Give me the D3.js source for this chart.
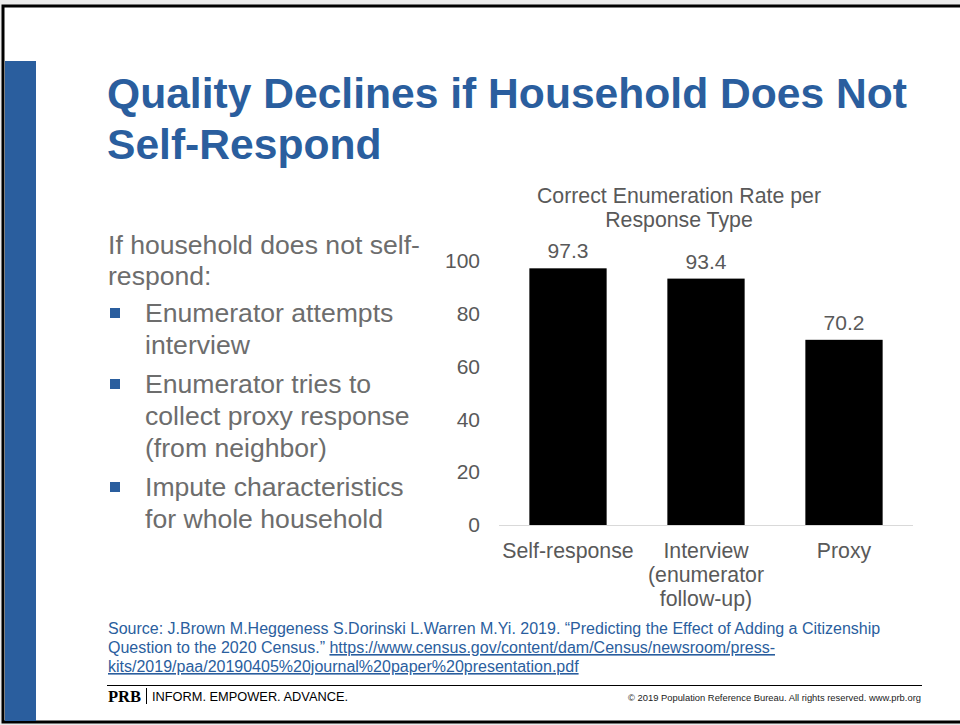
<!DOCTYPE html>
<html><head><meta charset="utf-8">
<script src="https://cdn.jsdelivr.net/npm/d3@7"></script>
<style>
html,body{margin:0;padding:0;background:#fff;}
svg{display:block;font-family:"Liberation Sans",Arial,sans-serif;}
</style></head>
<body>
<script>
const categories = [["Self-response"], ["Interview", "(enumerator", "follow-up)"], ["Proxy"]];
const values = [97.3, 93.4, 70.2];
const valueLabels = ["97.3", "93.4", "70.2"];
const yTicks = [0, 20, 40, 60, 80, 100];
const titleLines = ["Quality Declines if Household Does Not", "Self-Respond"];
const chartTitle = ["Correct Enumeration Rate per", "Response Type"];
const introLines = ["If household does not self-", "respond:"];
const bullets = [["Enumerator attempts", "interview"], ["Enumerator tries to", "collect proxy response", "(from neighbor)"], ["Impute characteristics", "for whole household"]];
const sourceLines = [
  [{t:"Source: J.Brown M.Heggeness S.Dorinski L.Warren M.Yi. 2019. \u201cPredicting the Effect of Adding a Citizenship", u:false}],
  [{t:"Question to the 2020 Census.\u201d ", u:false}, {t:"https://www.census.gov/content/dam/Census/newsroom/press-", u:true}],
  [{t:"kits/2019/paa/20190405%20journal%20paper%20presentation.pdf", u:true}]
];

const W = 960, H = 725;
const blue = "#2a5e9e", gray = "#595959", textGray = "#6d6d6d";
const svg = d3.select("body").append("svg").attr("width", W).attr("height", H);

// slide frame
svg.append("rect").attr("x",0).attr("y",0).attr("width",W).attr("height",H).attr("fill","#ebebeb");
svg.append("rect").attr("x",3).attr("y",6).attr("width",W).attr("height",H-9).attr("fill","#fff").attr("stroke","#000").attr("stroke-width",3);
svg.append("rect").attr("x",5).attr("y",61).attr("width",31).attr("height",H-61-4).attr("fill",blue);

// title
svg.append("g").selectAll("text").data(titleLines).join("text")
  .attr("x",107).attr("y",(d,i)=>108+i*51)
  .attr("font-size",42.6).attr("font-weight","bold").attr("fill",blue).text(d=>d);

// left text
const lt = svg.append("g").attr("fill",textGray).attr("font-size",26.6);
lt.selectAll("text.intro").data(introLines).join("text").attr("class","intro")
  .attr("x",108).attr("y",(d,i)=>254+i*31).text(d=>d);
let yy = 322;
bullets.forEach(b=>{
  lt.append("rect").attr("x",110).attr("y",yy-14).attr("width",10).attr("height",10).attr("fill",blue);
  b.forEach((line,j)=>{
    lt.append("text").attr("x",145).attr("y",yy+j*32).text(line);
  });
  yy += b.length*32 + 7;
});

// chart
const x = d3.scaleBand().domain(d3.range(values.length)).range([499,913]).paddingInner(0.44).paddingOuter(0.22);
const y = d3.scaleLinear().domain([0,100]).range([525,261.2]);

svg.append("g").attr("fill",gray).attr("font-size",21.3).attr("text-anchor","middle")
  .selectAll("text").data(chartTitle).join("text")
  .attr("x",679).attr("y",(d,i)=>203+i*24).text(d=>d);

const yAxis = svg.append("g").attr("transform","translate(499,0)")
  .call(d3.axisLeft(y).tickValues(yTicks).tickSize(0).tickPadding(19));
yAxis.select(".domain").remove();
yAxis.selectAll("text").attr("font-size",21).attr("fill",gray).attr("font-family","Liberation Sans, Arial, sans-serif");

svg.append("line").attr("x1",499).attr("x2",913).attr("y1",y(0)+0.5).attr("y2",y(0)+0.5).attr("stroke","#d9d9d9").attr("stroke-width",1);

svg.append("g").selectAll("rect").data(values).join("rect")
  .attr("x",(d,i)=>x(i)).attr("width",x.bandwidth())
  .attr("y",d=>y(d)).attr("height",d=>y(0)-y(d)).attr("fill","#000");

svg.append("g").attr("font-size",21).attr("fill",gray).attr("text-anchor","middle")
  .selectAll("text").data(values).join("text")
  .attr("x",(d,i)=>x(i)+x.bandwidth()/2).attr("y",d=>y(d)-10).text((d,i)=>valueLabels[i]);

const cg = svg.append("g").attr("font-size",21.3).attr("fill",gray).attr("text-anchor","middle");
categories.forEach((lines,i)=>{
  lines.forEach((l,j)=>{
    cg.append("text").attr("x",x(i)+x.bandwidth()/2).attr("y",558+j*24).text(l);
  });
});

// source
const sg = svg.append("g").attr("font-size",16).attr("fill",blue);
sourceLines.forEach((parts,i)=>{
  const t = sg.append("text").attr("x",108).attr("y",634+i*19).attr("xml:space","preserve");
  parts.forEach(p=>{
    t.append("tspan").attr("text-decoration",p.u?"underline":null).text(p.t);
  });
});

// footer
svg.append("line").attr("x1",107).attr("x2",922).attr("y1",685.5).attr("y2",685.5).attr("stroke","#000").attr("stroke-width",1);
svg.append("text").attr("x",108).attr("y",702).attr("font-family","Liberation Serif, Times New Roman, serif").attr("font-weight","bold").attr("font-size",16.5).attr("fill","#000").text("PRB");
svg.append("line").attr("x1",146.5).attr("x2",146.5).attr("y1",688).attr("y2",704).attr("stroke","#000").attr("stroke-width",1);
svg.append("text").attr("x",152).attr("y",701).attr("font-size",12.8).attr("fill","#000").text("INFORM. EMPOWER. ADVANCE.");
svg.append("text").attr("x",921).attr("y",701).attr("text-anchor","end").attr("font-size",9.4).attr("fill","#222").text("\u00a9 2019 Population Reference Bureau. All rights reserved. www.prb.org");
</script>
</body></html>
